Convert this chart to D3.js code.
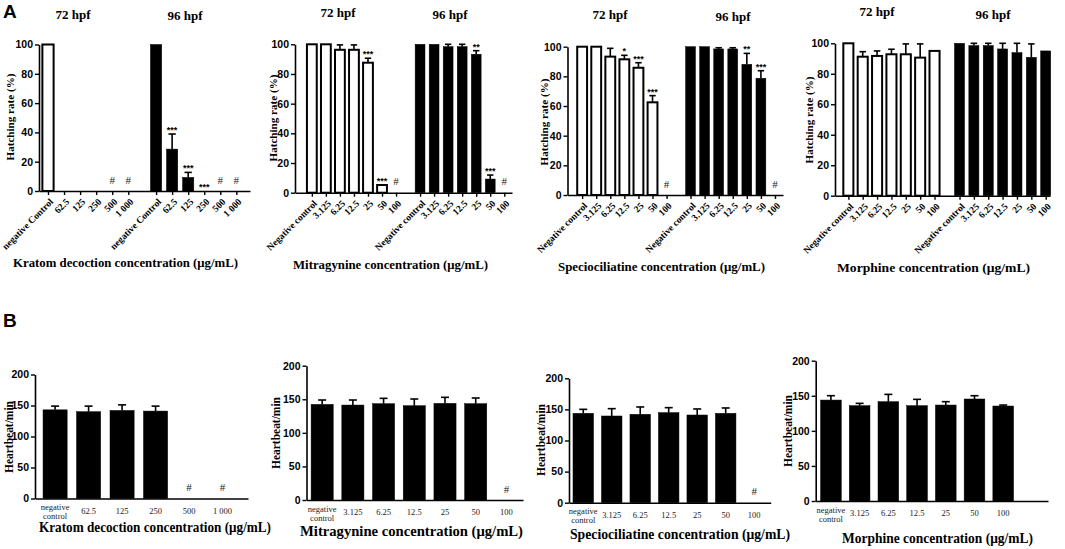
<!DOCTYPE html>
<html><head><meta charset="utf-8">
<script src="https://cdn.jsdelivr.net/npm/d3@7"></script>
<style>body{margin:0;background:#fff}svg{display:block}</style>
</head><body><svg id="c" width="1065" height="549"></svg>
<script>
// ---------- DATA ----------
// Panel A: hatching rate (%)
const kratomCatsA = ["negative Control","62.5","125","250","500","1 000"];
const kratom72 = [100,0,0,0,0,0];
const kratom72Err = [0,0,0,0,0,0];
const kratom72Sig = ["","","","","#","#"];
const kratom96 = [100,28.6,9.3,0,0,0];
const kratom96Err = [0,10.3,3.4,0,0,0];
const kratom96Sig = ["","***","***","***","#","#"];

const alkCatsA = ["Negative control","3.125","6.25","12.5","25","50","100"];
const mitra72 = [100,100,96.3,96.3,87.6,5.2,0];
const mitra72Err = [0,0,3.3,3.3,3.0,0,0];
const mitra72Sig = ["","","","","***","***","#"];
const mitra96 = [100,100,98.4,98.4,93.3,9.2,0];
const mitra96Err = [0,0,1.6,1.6,2.4,2.7,0];
const mitra96Sig = ["","","","","**","***","#"];

const spec72 = [100,100,93.3,91.5,85.8,62.5,0];
const spec72Err = [0,0,5.6,2.7,3.4,4.5,0];
const spec72Sig = ["","","","*","***","***","#"];
const spec96 = [100,100,98.5,98.5,88.1,78.7,0];
const spec96Err = [0,0,0.8,0.8,7.4,5.1,0];
const spec96Sig = ["","","","","**","***","#"];

const morph72 = [100,91.2,91.7,92.8,92.8,90.6,95];
const morph72Err = [0,3.3,3.3,3.3,6.8,9.0,0];
const morph96 = [100,98.5,98.5,96.3,93.9,90.8,95];
const morph96Err = [0,1.5,1.5,3.7,6.1,8.8,0];
const noSig = ["","","","","","",""];

const hatchTicks = [0,20,40,60,80,100];
const groupLabels = ["72 hpf","96 hpf"];

// Panel B: heartbeat/min
const kratomCatsB = ["negative control","62.5","125","250","500","1 000"];
const kratomHB = [143,140,142,141,0,0];
const kratomHBErr = [6,9,9,8,0,0];
const kratomHBSig = ["","","","","#","#"];
const alkCatsB = ["negative control","3.125","6.25","12.5","25","50","100"];
const mitraHB = [142.4,141.4,143.4,140.4,143.9,143.4,0];
const mitraHBErr = [6.5,7.5,8,10,9,8.5,0];
const mitraHBSig = ["","","","","","","#"];
const specHB = [143.7,139.4,142.1,144.8,141,143.7,0];
const specHBErr = [6.4,11.8,11.8,8,9.7,8.6,0];
const specHBSig = ["","","","","","","#"];
const morphHB = [143.9,135.9,141.6,135.9,136.8,145.4,135.4];
const morphHBErr = [6.2,3.3,10.4,9,4.8,4.7,1.4];
const hbTicks = [0,50,100,150,200];

const titles = ["Kratom decoction concentration (\u03bcg/mL)","Mitragynine concentration (\u03bcg/mL)",
  "Speciociliatine concentration (\u03bcg/mL)","Morphine concentration (\u03bcg/mL)"];

// ---------- LAYOUT ----------
const SERIF = "'Liberation Serif','Times New Roman',serif";
const SANS = "'Liberation Sans',Arial,sans-serif";
const layoutA = [
  {left:39, right:250, top:44.5, bottom:191, padL:0.56, padR:0.85, gap:0.73, h72:73, h96:185, hy72:19, hy96:20, ytX:9, ytY:117, tX:125.5, tY:267, tW:225},
  {left:295, right:512, top:44.3, bottom:192.7, padL:1.2, padR:0.55, gap:0.71, h72:338, h96:450, hy72:17, hy96:19, ytX:272, ytY:118, tX:390.5, tY:269, tW:195},
  {left:567.5, right:783, top:46.7, bottom:195, padL:1.04, padR:0.57, gap:0.7, h72:610, h96:733, hy72:19, hy96:21, ytX:543, ytY:122, tX:661.5, tY:271, tW:207},
  {left:835, right:1050, top:43.3, bottom:195.7, padL:0.93, padR:0.3, gap:0.74, h72:877, h96:993, hy72:16, hy96:19, ytX:808, ytY:120, tX:933.5, tY:272, tW:193}
];
const layoutB = [
  {left:35, right:248, top:374.5, bottom:498.5, padL:0.6, padR:0.76, ytX:8.5, ytY:437, tX:155, tY:532, tW:232},
  {left:306.5, right:523, top:365.7, bottom:500, padL:0.51, padR:0.54, ytX:275, ytY:433, tX:411.5, tY:536, tW:223},
  {left:569, right:770.7, top:378.3, bottom:502.7, padL:0.5, padR:0.58, ytX:540, ytY:440, tX:680, tY:539, tW:220},
  {left:815.7, right:1048, top:360.7, bottom:501, padL:0.53, padR:1.56, ytX:787.5, ytY:431, tX:937.5, tY:543, tW:191}
];

const svg = d3.select("#c");
svg.append("rect").attr("width",1065).attr("height",549).attr("fill","#fff");

function styleAxis(sel){
  sel.select(".domain").attr("stroke","#000").attr("stroke-width",1.6);
  sel.selectAll(".tick line").attr("stroke","#000").attr("stroke-width",1.4);
}

function drawBarsAndMarks(g, rows, x, y, bw, capW, sigFont){
  const valued = rows.filter(r=>r.v>0);
  g.selectAll("rect.bar").data(valued).join("rect")
    .attr("x",r=>x(r.slot)-bw/2).attr("y",r=>y(r.v))
    .attr("width",bw).attr("height",r=>y(0)-y(r.v))
    .attr("fill",r=>r.fill).attr("stroke","#000").attr("stroke-width",r=>r.fill==="#fff"?2:0.5);
  const errs = rows.filter(r=>r.e>0);
  g.selectAll("line.ev").data(errs).join("line")
    .attr("x1",r=>x(r.slot)).attr("x2",r=>x(r.slot))
    .attr("y1",r=>y(r.v)).attr("y2",r=>y(r.v+r.e))
    .attr("stroke","#000").attr("stroke-width",1.6);
  g.selectAll("line.ec").data(errs).join("line")
    .attr("x1",r=>x(r.slot)-capW/2).attr("x2",r=>x(r.slot)+capW/2)
    .attr("y1",r=>y(r.v+r.e)).attr("y2",r=>y(r.v+r.e))
    .attr("stroke","#000").attr("stroke-width",1.6);
  rows.filter(r=>r.s==="#").forEach(r=>{
    g.append("text").attr("x",x(r.slot)).attr("y",y(0)-7.5)
      .attr("text-anchor","middle").attr("font-family",SERIF).attr("font-size",11).attr("fill","#222").text(r.s);
  });
  rows.filter(r=>r.s && r.s!=="#").forEach(r=>{
    g.append("text").attr("x",x(r.slot)).attr("y",y(r.v+r.e)-1)
      .attr("text-anchor","middle").attr("font-family",SANS).attr("font-weight","bold")
      .attr("font-size",sigFont).text(r.s);
  });
}

function drawHatch(cats, v72, e72, s72, v96, e96, s96, title, L){
  const n = cats.length;
  const g = svg.append("g");
  const rows = [];
  cats.forEach((c,i)=>rows.push({cat:c, slot:i, v:v72[i], e:e72[i], s:s72[i], fill:"#fff"}));
  cats.forEach((c,i)=>rows.push({cat:c, slot:i+n+L.gap, v:v96[i], e:e96[i], s:s96[i], fill:"#000"}));
  const x = d3.scaleLinear().domain([-L.padL, 2*n-1+L.gap+L.padR]).range([L.left, L.right]);
  const y = d3.scaleLinear().domain([0,100]).range([L.bottom, L.top]);
  const step = x(1)-x(0);
  const bw = step*0.7;
  drawBarsAndMarks(g, rows, x, y, bw, bw*0.65, 9);
  const ya = g.append("g").attr("transform",`translate(${L.left},0)`)
    .call(d3.axisLeft(y).tickValues(hatchTicks).tickSize(4).tickPadding(2).tickSizeOuter(0));
  styleAxis(ya);
  ya.selectAll("text").attr("font-family",SANS).attr("font-weight","bold").attr("font-size",10.5).attr("fill","#000");
  const xa = g.append("g").attr("transform",`translate(0,${L.bottom})`)
    .call(d3.axisBottom(x).tickValues(rows.map(r=>r.slot)).tickFormat((d,i)=>rows[i].cat).tickSize(4).tickSizeOuter(0));
  styleAxis(xa);
  xa.selectAll("text").attr("font-family",SERIF).attr("font-weight","bold").attr("font-size",9.5).attr("fill","#000")
    .attr("text-anchor","end").attr("dy","0.35em").attr("y",0)
    .attr("transform","translate(3,9) rotate(-45)");
  [[L.h72,L.hy72],[L.h96,L.hy96]].forEach((p,i)=>{
    g.append("text").attr("x",p[0]).attr("y",p[1]).attr("text-anchor","middle")
      .attr("font-family",SERIF).attr("font-weight","bold").attr("font-size",13).text(groupLabels[i]);
  });
  g.append("text").attr("transform",`translate(${L.ytX+4.5},${L.ytY}) rotate(-90)`).attr("text-anchor","middle")
    .attr("font-family",SERIF).attr("font-weight","bold").attr("font-size",11.3)
    .attr("textLength",87).attr("lengthAdjust","spacingAndGlyphs").text("Hatching rate (%)");
  g.append("text").attr("x",L.tX).attr("y",L.tY).attr("text-anchor","middle")
    .attr("font-family",SERIF).attr("font-weight","bold").attr("font-size",13.5)
    .attr("textLength",L.tW).attr("lengthAdjust","spacingAndGlyphs").text(title);
}

function drawHeart(cats, vals, errs, sigs, title, L){
  const n = cats.length;
  const g = svg.append("g");
  const rows = cats.map((c,i)=>({cat:c, slot:i, v:vals[i], e:errs[i], s:sigs[i], fill:"#000"}));
  const x = d3.scaleLinear().domain([-L.padL, n-1+L.padR]).range([L.left, L.right]);
  const y = d3.scaleLinear().domain([0,200]).range([L.bottom, L.top]);
  const step = x(1)-x(0);
  const bw = step*0.72;
  drawBarsAndMarks(g, rows, x, y, bw, 8, 9);
  const ya = g.append("g").attr("transform",`translate(${L.left},0)`)
    .call(d3.axisLeft(y).tickValues(hbTicks).tickSize(4).tickPadding(2).tickSizeOuter(0));
  styleAxis(ya);
  ya.selectAll("text").attr("font-family",SANS).attr("font-weight","bold").attr("font-size",10.5).attr("fill","#000");
  const xa = g.append("g").attr("transform",`translate(0,${L.bottom})`)
    .call(d3.axisBottom(x).tickValues(rows.map(r=>r.slot)).tickFormat("").tickSize(0).tickSizeOuter(0));
  styleAxis(xa);
  rows.forEach(r=>{
    const words = r.cat.split(" ");
    if (r.cat.startsWith("negative")) {
      const t = g.append("text").attr("text-anchor","middle").attr("font-family",SERIF).attr("font-size",8.5).attr("fill","#222");
      t.append("tspan").attr("x",x(r.slot)).attr("y",L.bottom+11.5).text(words[0]);
      t.append("tspan").attr("x",x(r.slot)).attr("y",L.bottom+20.5).text(words[1]);
    } else {
      g.append("text").attr("x",x(r.slot)).attr("y",L.bottom+15).attr("text-anchor","middle")
        .attr("font-family",SERIF).attr("font-size",8.5).attr("fill","#222").text(r.cat);
    }
  });
  g.append("text").attr("transform",`translate(${L.ytX+4.5},${L.ytY}) rotate(-90)`).attr("text-anchor","middle")
    .attr("font-family",SERIF).attr("font-weight","bold").attr("font-size",11.5)
    .attr("textLength",72).attr("lengthAdjust","spacingAndGlyphs").text("Heartbeat/min");
  g.append("text").attr("x",L.tX).attr("y",L.tY).attr("text-anchor","middle")
    .attr("font-family",SERIF).attr("font-weight","bold").attr("font-size",14)
    .attr("textLength",L.tW).attr("lengthAdjust","spacingAndGlyphs").text(title);
}

drawHatch(kratomCatsA, kratom72, kratom72Err, kratom72Sig, kratom96, kratom96Err, kratom96Sig, titles[0], layoutA[0]);
drawHatch(alkCatsA, mitra72, mitra72Err, mitra72Sig, mitra96, mitra96Err, mitra96Sig, titles[1], layoutA[1]);
drawHatch(alkCatsA, spec72, spec72Err, spec72Sig, spec96, spec96Err, spec96Sig, titles[2], layoutA[2]);
drawHatch(alkCatsA, morph72, morph72Err, noSig, morph96, morph96Err, noSig, titles[3], layoutA[3]);

drawHeart(kratomCatsB, kratomHB, kratomHBErr, kratomHBSig, titles[0], layoutB[0]);
drawHeart(alkCatsB, mitraHB, mitraHBErr, mitraHBSig, titles[1], layoutB[1]);
drawHeart(alkCatsB, specHB, specHBErr, specHBSig, titles[2], layoutB[2]);
drawHeart(alkCatsB, morphHB, morphHBErr, noSig, titles[3], layoutB[3]);

svg.append("text").attr("x",3).attr("y",18).attr("font-family",SANS).attr("font-weight","bold").attr("font-size",19).text("A");
svg.append("text").attr("x",3).attr("y",327).attr("font-family",SANS).attr("font-weight","bold").attr("font-size",19).text("B");
</script></body></html>
